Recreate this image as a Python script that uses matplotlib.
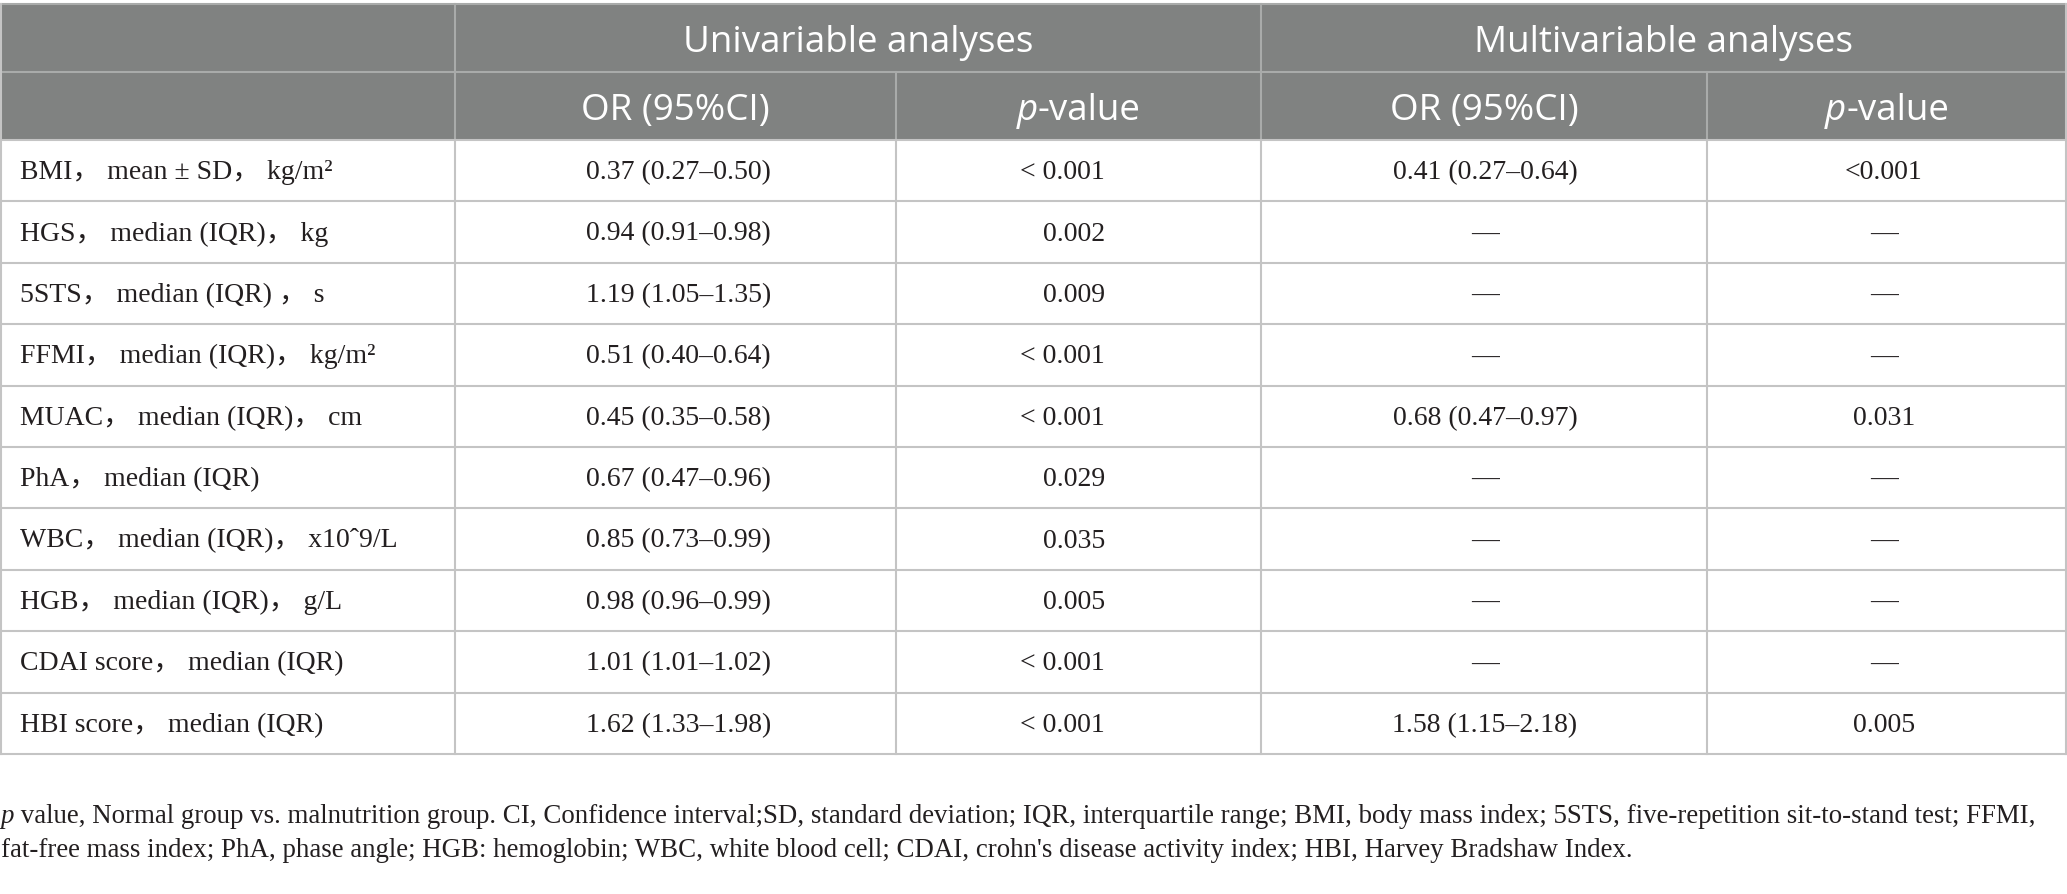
import matplotlib.pyplot as plt
from matplotlib.patches import Rectangle

W, H = 2067, 895

labels = [
    "BMI， mean ± SD， kg/m²",
    "HGS， median (IQR)， kg",
    "5STS， median (IQR) ， s",
    "FFMI， median (IQR)， kg/m²",
    "MUAC， median (IQR)， cm",
    "PhA， median (IQR)",
    "WBC， median (IQR)， x10ˆ9/L",
    "HGB， median (IQR)， g/L",
    "CDAI score， median (IQR)",
    "HBI score， median (IQR)",
]
uni_or = ["0.37 (0.27–0.50)", "0.94 (0.91–0.98)", "1.19 (1.05–1.35)",
          "0.51 (0.40–0.64)", "0.45 (0.35–0.58)", "0.67 (0.47–0.96)",
          "0.85 (0.73–0.99)", "0.98 (0.96–0.99)", "1.01 (1.01–1.02)",
          "1.62 (1.33–1.98)"]
uni_p = ["< 0.001", "0.002", "0.009", "< 0.001", "< 0.001", "0.029",
         "0.035", "0.005", "< 0.001", "< 0.001"]
multi_or = ["0.41 (0.27–0.64)", "—", "—", "—", "0.68 (0.47–0.97)", "—",
            "—", "—", "—", "1.58 (1.15–2.18)"]
multi_p = ["<0.001", "—", "—", "—", "0.031", "—", "—", "—", "—", "0.005"]

groups = ["Univariable analyses", "Multivariable analyses"]
sub_head = "OR (95%CI)"

footnote_1 = ("value, Normal group vs. malnutrition group. CI, Confidence interval;SD, "
              "standard deviation; IQR, interquartile range; BMI, body mass index; "
              "5STS, five-repetition sit-to-stand test; FFMI,")
footnote_2 = ("fat-free mass index; PhA, phase angle; HGB: hemoglobin; WBC, white blood "
              "cell; CDAI, crohn's disease activity index; HBI, Harvey Bradshaw Index.")

# layout (pixels)
col_x = [0, 455, 896, 1261, 1707, W]
top, h1, h2 = 5, 73, 141
row_h = 61.4
n = len(labels)
bottom = h2 + n * row_h

SERIF = ["Liberation Serif", "Noto Sans CJK SC"]
SANS = ["Open Sans"]
HEAD_BG = "#808281"
GRID = "#c4c4c4"
HEAD_GRID = "#a9abaa"
TXT = "#231f20"
DSIZE = 20
FSIZE = 19.4
HSIZE = 26.5

fig = plt.figure(figsize=(W / 100, H / 100), dpi=100)
ax = fig.add_axes([0, 0, 1, 1])
ax.set_xlim(0, W)
ax.set_ylim(H, 0)
ax.axis("off")
renderer = fig.canvas.get_renderer()


def text_width(t):
    bb = t.get_window_extent(renderer=renderer)
    return bb.width


def italic_p(x, y, rest, family, size, color, ha="left"):
    # italic "p" followed by upright text
    t1 = ax.text(0, y, "p", family=family, style="italic", fontsize=size,
                 color=color, va="center", ha="left")
    t2 = ax.text(0, y, rest, family=family, fontsize=size, color=color,
                 va="center", ha="left")
    w1, w2 = text_width(t1), text_width(t2)
    x0 = x - (w1 + w2) / 2 if ha == "center" else x
    t1.set_x(x0)
    t2.set_x(x0 + w1)


# header background
ax.add_patch(Rectangle((0, top), W, h2 - top, color=HEAD_BG, lw=0))

# header lines
ax.plot([0, W], [top, top], color=HEAD_GRID, lw=1.5)
ax.plot([0, W], [h1, h1], color=HEAD_GRID, lw=1.5)
for cx in [col_x[1], col_x[3]]:
    ax.plot([cx, cx], [top, h2], color=HEAD_GRID, lw=1.5)
for cx in [col_x[2], col_x[4]]:
    ax.plot([cx, cx], [h1, h2], color=HEAD_GRID, lw=1.5)

# body lines
for i in range(n + 1):
    y = h2 + i * row_h
    ax.plot([0, W], [y, y], color=GRID, lw=1.5)
for cx in col_x[1:5]:
    ax.plot([cx, cx], [h2, bottom], color=GRID, lw=1.5)
ax.plot([0.8, 0.8], [top, bottom], color=GRID, lw=1.5)
ax.plot([W - 0.8, W - 0.8], [top, bottom], color=GRID, lw=1.5)

# header text
ax.text((col_x[1] + col_x[3]) / 2, (top + h1) / 2 + 4, groups[0], family=SANS,
        fontsize=HSIZE, color="white", ha="center", va="center")
ax.text((col_x[3] + col_x[5]) / 2, (top + h1) / 2 + 4, groups[1], family=SANS,
        fontsize=HSIZE, color="white", ha="center", va="center")
for a, b in [(1, 2), (3, 4)]:
    ax.text((col_x[a] + col_x[a + 1]) / 2, (h1 + h2) / 2 + 4, sub_head,
            family=SANS, fontsize=HSIZE, color="white", ha="center", va="center")
    italic_p((col_x[b] + col_x[b + 1]) / 2, (h1 + h2) / 2 + 4, "-value",
             SANS, HSIZE, "white", ha="center")

# body text
for i in range(n):
    y = h2 + (i + 0.5) * row_h + 1
    ax.text(20, y, labels[i], family=SERIF, fontsize=DSIZE, color=TXT,
            ha="left", va="center")
    ax.text((col_x[1] + col_x[2]) / 2 + 3, y, uni_or[i], family=SERIF,
            fontsize=DSIZE, color=TXT, ha="center", va="center")
    ax.text(1105, y, uni_p[i], family=SERIF, fontsize=DSIZE, color=TXT,
            ha="right", va="center")
    ax.text((col_x[3] + col_x[4]) / 2 + 1, y, multi_or[i], family=SERIF,
            fontsize=DSIZE, color=TXT, ha="center", va="center")
    ax.text((col_x[4] + col_x[5]) / 2 - 3, y, multi_p[i], family=SERIF,
            fontsize=DSIZE, color=TXT, ha="center", va="center")

# footnote
italic_p(1, 817, " " + footnote_1, SERIF, FSIZE, TXT)
ax.text(1, 851, footnote_2, family=SERIF, fontsize=FSIZE, color=TXT,
        ha="left", va="center")

fig.savefig("out.png", dpi=100)
